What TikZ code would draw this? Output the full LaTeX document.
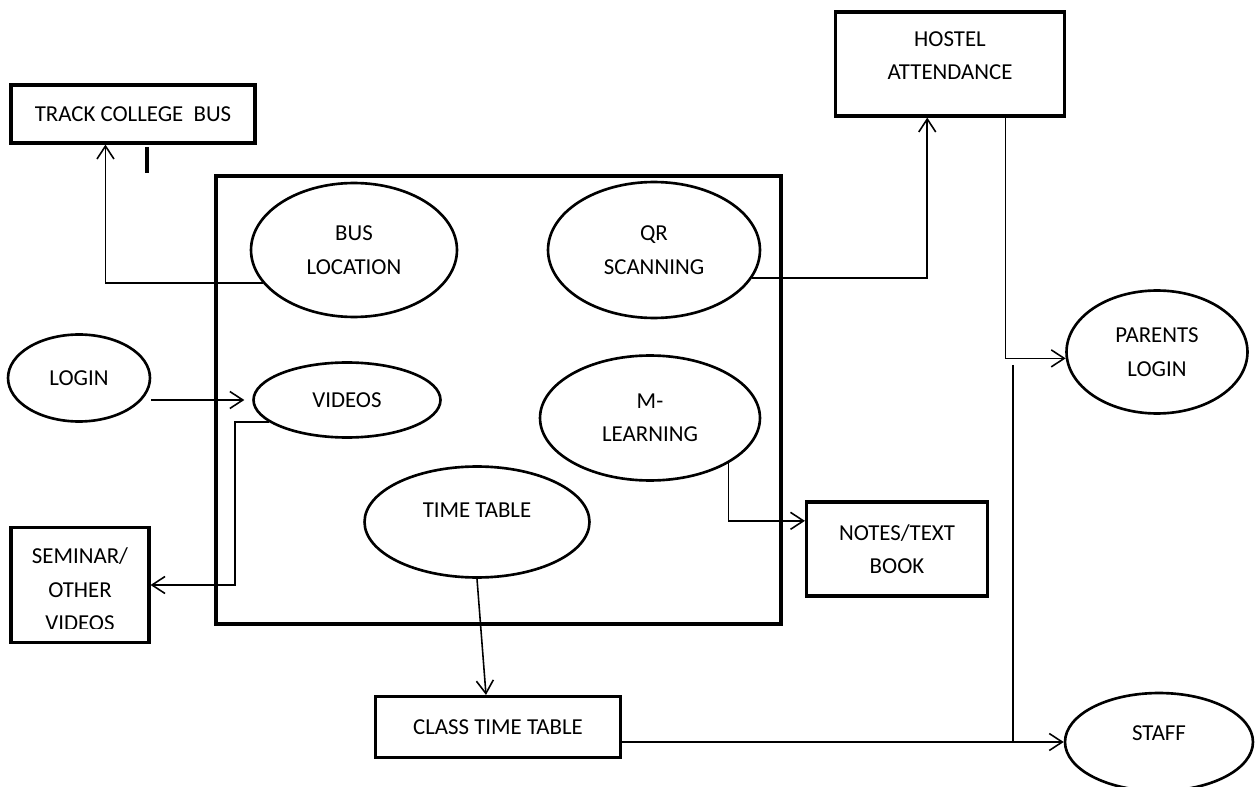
\documentclass[tikz,border=0pt]{standalone}
\usepackage{fontspec}
\setmainfont{Carlito}
\usetikzlibrary{shapes.geometric,arrows.meta}

\begin{document}
\begin{tikzpicture}[x=0.02cm, y=-0.02cm, font=\fontsize{13}{19}\selectfont,
    >={Straight Barb[length=2.6mm, width=3.4mm]},
    oval/.style = {draw, ellipse, line width=1.5pt, inner sep=0pt, align=center},
    box/.style = {draw, rectangle, line width=1.8pt, inner sep=0pt, align=center},
    link/.style = {line width=0.9pt}]
  \useasboundingbox (0,0) rectangle (1255,787);
  % app frame
  \draw[line width=2.2pt] (216,176) rectangle (781,624);
  \draw[line width=2.4pt] (147,147) -- (147,173);

  \node[box, minimum width=4.88cm, minimum height=1.16cm] (track) at (133,114) {TRACK COLLEGE\ \ BUS};
  \node[box, minimum width=4.58cm, minimum height=2.08cm] (hostel) at (950,64)
    {\raisebox{4.5pt}[\height][\depth]{\begin{tabular}{@{}c@{}}HOSTEL\\ATTENDANCE\end{tabular}}};
  \node[oval, minimum width=3.62cm, minimum height=2.46cm] (parents) at (1157,352) {PARENTS\\LOGIN};
  \node[oval, minimum width=3.76cm, minimum height=1.96cm] (staff) at (1159,742)
    {\raisebox{5pt}[\height][\depth]{STAFF}};
  \node[oval, minimum width=2.84cm, minimum height=1.74cm] (login) at (79,378) {LOGIN};
  \node[oval, minimum width=4.12cm, minimum height=2.68cm] (busloc) at (354,250) {BUS\\LOCATION};
  \node[oval, minimum width=4.24cm, minimum height=2.72cm] (qr) at (654,250) {QR\\SCANNING};
  \node[oval, minimum width=3.74cm, minimum height=1.5cm] (videos) at (347,400) {VIDEOS};
  \node[oval, minimum width=4.4cm, minimum height=2.5cm] (mlearn) at (650,418) {M-\\LEARNING};
  \node[oval, minimum width=4.5cm, minimum height=2.22cm] (tt) at (477,522)
    {\raisebox{6.8pt}[\height][\depth]{TIME TABLE}};
  \node[box, minimum width=3.62cm, minimum height=1.88cm] (notes) at (897,549) {NOTES/TEXT\\BOOK};
  \node[box, minimum width=2.76cm, minimum height=2.3cm] (seminar) at (80,585) {};
  \begin{scope}
    \clip (11,528) rectangle (149,628);
    \node[align=center] (semtext) at ([yshift=-2.5pt]seminar.center) {SEMINAR/\\OTHER\\VIDEOS};
  \end{scope}
  \node[box, minimum width=4.9cm, minimum height=1.22cm] (classtt) at (498,727) {CLASS TIME TABLE};
  \coordinate (split) at (1013,365);

  \draw[link, ->] (busloc.200) -| (track.228);
  \draw[link, ->] (qr.-16) -| (hostel.247);
  \draw[link, ->] (hostel.-44.5) |- (parents.184);
  \draw[link, ->, shorten >=4.5pt] (login.east |- videos.west) -- (videos.west);
  \draw[link, ->] (videos.196) -| (235,0 |- seminar.east) -- (seminar.east);
  \draw[link, ->] (mlearn.-30) |- (notes.163);
  \draw[link, ->] (tt.south) -- (classtt.north -| 486,0);
  \draw[link, ->] (classtt.east |- staff.west) -- (staff.west);
  \draw[link] (split) -- (split |- staff.west);
\end{tikzpicture}
\end{document}
